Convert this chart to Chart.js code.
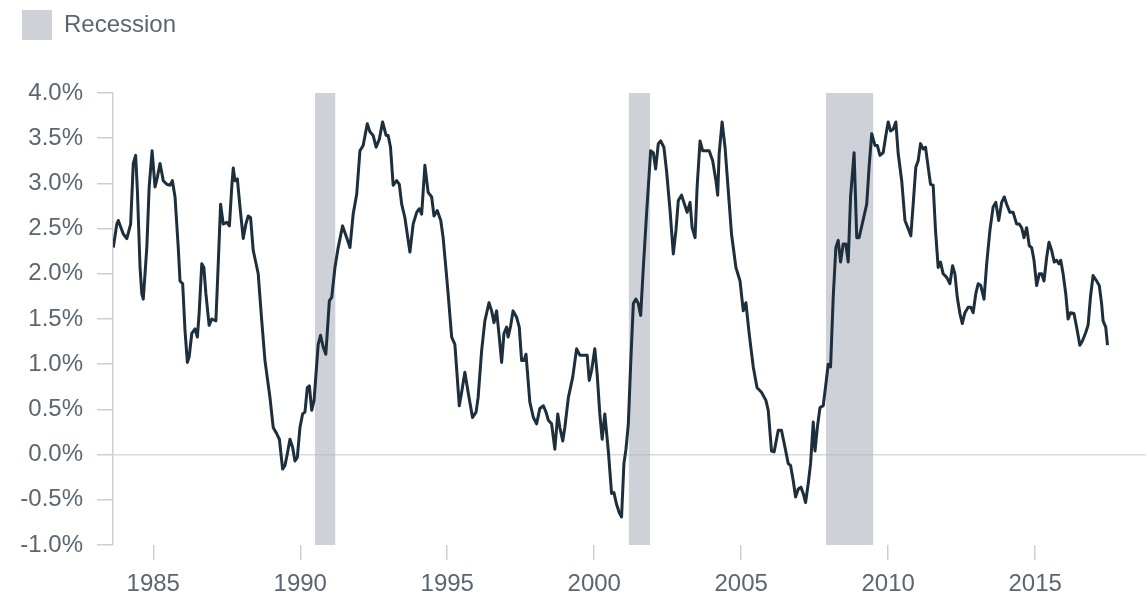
<!DOCTYPE html>
<html>
<head>
<meta charset="utf-8">
<script src="https://cdn.jsdelivr.net/npm/chart.js@4"></script>
<style>
  html, body { margin: 0; padding: 0; background: #fff; }
  #wrap { width: 1146px; height: 598px; }
</style>
</head>
<body>
<div id="wrap"><canvas id="chart"></canvas></div>
<script>
// decimal year of each observation
const dates = [
  1983.64, 1983.76, 1983.81, 1983.98, 1984.10, 1984.23, 1984.32, 1984.40, 1984.46, 1984.55,
  1984.61, 1984.66, 1984.78, 1984.86, 1984.96, 1985.06, 1985.14, 1985.23, 1985.34, 1985.46,
  1985.57, 1985.65, 1985.74, 1985.85, 1985.91, 1986.00, 1986.08, 1986.16, 1986.22, 1986.31,
  1986.42, 1986.50, 1986.56, 1986.65, 1986.72, 1986.79, 1986.90, 1986.99, 1987.13, 1987.21,
  1987.29, 1987.38, 1987.50, 1987.59, 1987.67, 1987.72, 1987.78, 1987.86, 1987.95, 1988.06,
  1988.15, 1988.23, 1988.31, 1988.40, 1988.57, 1988.69, 1988.80, 1988.97, 1989.08, 1989.20,
  1989.29, 1989.40, 1989.48, 1989.56, 1989.65, 1989.74, 1989.82, 1989.90, 1989.99, 1990.08,
  1990.16, 1990.24, 1990.31, 1990.39, 1990.47, 1990.61, 1990.69, 1990.78, 1990.87, 1990.99,
  1991.07, 1991.18, 1991.29, 1991.44, 1991.58, 1991.69, 1991.80, 1991.92,
  1992.03, 1992.14, 1992.28, 1992.37, 1992.48, 1992.58, 1992.69, 1992.80, 1992.92, 1992.99,
  1993.07, 1993.16, 1993.28, 1993.37, 1993.45, 1993.56, 1993.64, 1993.73, 1993.84, 1993.96,
  1994.05, 1994.13, 1994.24, 1994.35, 1994.47, 1994.55, 1994.66, 1994.78, 1994.86, 1994.96,
  1995.03, 1995.15, 1995.26, 1995.41, 1995.49, 1995.60, 1995.71, 1995.86, 1995.98, 1996.05,
  1996.17, 1996.28, 1996.42, 1996.51, 1996.59, 1996.68, 1996.77, 1996.85, 1996.93, 1997.02,
  1997.07, 1997.16, 1997.24, 1997.36, 1997.45, 1997.53, 1997.61, 1997.68, 1997.81, 1997.93,
  1998.04, 1998.15, 1998.27, 1998.36, 1998.44, 1998.55, 1998.66, 1998.76, 1998.83, 1998.93,
  1999.00, 1999.12, 1999.27, 1999.40, 1999.51, 1999.65, 1999.76, 1999.83, 1999.91, 2000.02,
  2000.10, 2000.19, 2000.27, 2000.36, 2000.48, 2000.59, 2000.67, 2000.76, 2000.85, 2000.93,
  2001.01, 2001.08, 2001.16, 2001.24, 2001.33, 2001.42, 2001.50, 2001.58, 2001.67, 2001.78,
  2001.92, 2002.01, 2002.09, 2002.18, 2002.26, 2002.37, 2002.46, 2002.58, 2002.69, 2002.78,
  2002.86, 2002.97, 2003.09, 2003.16, 2003.26, 2003.33, 2003.43, 2003.50, 2003.60, 2003.69,
  2003.80, 2003.91, 2004.03, 2004.14, 2004.20, 2004.25, 2004.35, 2004.45, 2004.56, 2004.67,
  2004.82, 2004.96, 2005.07, 2005.16, 2005.27, 2005.41, 2005.54, 2005.69, 2005.84, 2005.92,
  2006.03, 2006.12, 2006.26, 2006.37, 2006.49, 2006.60, 2006.68, 2006.77, 2006.85, 2006.94,
  2007.03, 2007.11, 2007.19, 2007.28, 2007.36, 2007.45, 2007.51, 2007.59, 2007.68, 2007.79,
  2007.88, 2007.96, 2008.04, 2008.13, 2008.22, 2008.30, 2008.38, 2008.47, 2008.56, 2008.64,
  2008.72, 2008.84, 2008.93, 2009.01, 2009.13, 2009.27, 2009.35, 2009.44,
  2009.55, 2009.63, 2009.72, 2009.83, 2009.92, 2010.00, 2010.08, 2010.17, 2010.26, 2010.34,
  2010.46, 2010.57, 2010.68, 2010.77, 2010.85, 2010.94, 2011.02, 2011.10, 2011.19, 2011.27,
  2011.36, 2011.44, 2011.53, 2011.61, 2011.70, 2011.78, 2011.87, 2011.99, 2012.10, 2012.19,
  2012.27, 2012.35, 2012.44, 2012.52, 2012.61, 2012.72, 2012.81, 2012.89, 2012.98, 2013.06,
  2013.15, 2013.26, 2013.35, 2013.46, 2013.57, 2013.66, 2013.76, 2013.86, 2013.95, 2014.03,
  2014.14, 2014.25, 2014.37, 2014.46, 2014.54, 2014.62, 2014.71, 2014.80, 2014.88, 2014.96,
  2015.05, 2015.14, 2015.22, 2015.30, 2015.39, 2015.47, 2015.56, 2015.65, 2015.73, 2015.81,
  2015.87, 2015.95, 2016.04, 2016.12, 2016.20, 2016.32, 2016.41, 2016.52, 2016.61, 2016.72,
  2016.80, 2016.88, 2016.97, 2017.09, 2017.18, 2017.26, 2017.31, 2017.40, 2017.46
];

// values in percent
const values = [
  2.29, 2.55, 2.59, 2.44, 2.39, 2.55, 3.22, 3.31, 2.92, 2.07,
  1.78, 1.72, 2.29, 2.96, 3.36, 2.96, 3.07, 3.22, 3.03, 2.99,
  2.98, 3.03, 2.85, 2.29, 1.92, 1.89, 1.37, 1.02, 1.08, 1.34,
  1.39, 1.30, 1.56, 2.11, 2.07, 1.78, 1.43, 1.50, 1.48, 2.11,
  2.77, 2.55, 2.57, 2.53, 2.96, 3.17, 3.03, 3.05, 2.74, 2.39,
  2.55, 2.64, 2.62, 2.26, 2.00, 1.48, 1.04, 0.63, 0.30, 0.23,
  0.17, -0.16, -0.12, 0.01, 0.17, 0.08, -0.07, -0.03, 0.30, 0.45,
  0.47, 0.74, 0.76, 0.49, 0.60, 1.22, 1.32, 1.19, 1.11, 1.70,
  1.74, 2.07, 2.29, 2.53, 2.40, 2.29, 2.66, 2.88,
  3.36, 3.42, 3.66, 3.57, 3.53, 3.40, 3.49, 3.68, 3.53, 3.53,
  3.40, 2.98, 3.03, 2.99, 2.77, 2.62, 2.44, 2.24, 2.55, 2.68,
  2.72, 2.66, 3.20, 2.90, 2.85, 2.64, 2.70, 2.59, 2.40, 2.04,
  1.78, 1.30, 1.22, 0.54, 0.69, 0.91, 0.69, 0.41, 0.47, 0.63,
  1.15, 1.48, 1.68, 1.59, 1.46, 1.59, 1.30, 1.02, 1.34, 1.41,
  1.30, 1.43, 1.59, 1.52, 1.41, 1.04, 1.04, 1.11, 0.58, 0.41,
  0.34, 0.51, 0.54, 0.47, 0.38, 0.34, 0.06, 0.45, 0.30, 0.15,
  0.30, 0.63, 0.86, 1.17, 1.10, 1.10, 1.10, 0.82, 0.93, 1.17,
  0.89, 0.45, 0.17, 0.45, 0.04, -0.43, -0.42, -0.55, -0.64, -0.69,
  -0.10, 0.06, 0.34, 1.00, 1.67, 1.72, 1.67, 1.54, 2.07, 2.66,
  3.36, 3.34, 3.16, 3.44, 3.47, 3.40, 3.14, 2.70, 2.22, 2.48,
  2.81, 2.87, 2.75, 2.68, 2.79, 2.51, 2.40, 2.96, 3.47, 3.36,
  3.36, 3.36, 3.25, 3.03, 2.87, 3.33, 3.68, 3.40, 2.92, 2.44,
  2.07, 1.92, 1.59, 1.68, 1.34, 0.97, 0.74, 0.69, 0.60, 0.49,
  0.04, 0.03, 0.27, 0.27, 0.08, -0.10, -0.12, -0.29, -0.47, -0.38,
  -0.36, -0.43, -0.53, -0.32, -0.10, 0.36, 0.04, 0.30, 0.52, 0.54,
  0.78, 1.00, 0.97, 1.74, 2.29, 2.37, 2.13, 2.33, 2.33, 2.13,
  2.85, 3.34, 2.40, 2.40, 2.57, 2.77, 3.18, 3.55,
  3.42, 3.42, 3.31, 3.34, 3.53, 3.68, 3.58, 3.60, 3.68, 3.33,
  3.03, 2.59, 2.50, 2.42, 2.77, 3.18, 3.25, 3.44, 3.38, 3.40,
  3.18, 2.99, 2.98, 2.48, 2.07, 2.13, 2.00, 1.96, 1.89, 2.09,
  2.00, 1.74, 1.56, 1.45, 1.57, 1.63, 1.63, 1.57, 1.78, 1.89,
  1.87, 1.72, 2.11, 2.48, 2.74, 2.79, 2.59, 2.79, 2.85, 2.77,
  2.68, 2.68, 2.55, 2.55, 2.51, 2.40, 2.51, 2.31, 2.29, 2.15,
  1.87, 2.00, 2.00, 1.92, 2.18, 2.35, 2.26, 2.13, 2.15, 2.11,
  2.15, 2.00, 1.78, 1.50, 1.57, 1.56, 1.41, 1.21, 1.26, 1.35,
  1.43, 1.74, 1.98, 1.92, 1.87, 1.67, 1.48, 1.41, 1.21
];

const recessionStart = [1990.5, 2001.17, 2007.88];
const recessionEnd = [1991.2, 2001.9, 2009.5];

const xTicks = [1985, 1990, 1995, 2000, 2005, 2010, 2015];
const yTicks = [-1, -0.5, 0, 0.5, 1, 1.5, 2, 2.5, 3, 3.5, 4];

const TEXT = '#5b6671';
const RULE = '#cbcfd4';
const FONT = { family: "'Liberation Sans', Arial, sans-serif", size: 24 };

const linePoints = dates.map((d, i) => ({ x: d, y: values[i] }));

// bands: top edge at the axis max, filled down to the axis start
const bandPoints = [];
recessionStart.forEach((s, i) => {
    bandPoints.push({ x: s, y: 4 }, { x: recessionEnd[i], y: 4 }, { x: recessionEnd[i] + 0.01, y: null });
});

// push the plot down below the legend
const legendGap = {
    id: 'legendGap',
    beforeInit(chart) {
        const fit = chart.legend.fit;
        chart.legend.fit = function () {
            fit.bind(chart.legend)();
            this.height += 43;
        };
    }
};

new Chart(document.getElementById('chart'), {
    type: 'line',
    data: {
        datasets: [
            {
                label: 'Series',
                data: linePoints,
                borderColor: '#1d2e3d',
                borderWidth: 3,
                pointRadius: 0,
                tension: 0,
                borderJoinStyle: 'round',
                order: 0
            },
            {
                label: 'Recession',
                data: bandPoints,
                borderWidth: 0,
                borderColor: 'rgba(0,0,0,0)',
                backgroundColor: 'rgba(178,180,192,0.62)',
                pointRadius: 0,
                fill: 'start',
                spanGaps: false,
                order: 1
            }
        ]
    },
    options: {
        responsive: true,
        maintainAspectRatio: false,
        animation: false,
        layout: { padding: { left: 12, top: 0, right: 0, bottom: 0 } },
        plugins: {
            legend: {
                position: 'top',
                align: 'start',
                labels: {
                    boxWidth: 30,
                    boxHeight: 30,
                    color: TEXT,
                    font: FONT,
                    filter: item => item.text === 'Recession'
                }
            },
            tooltip: { enabled: false }
        },
        scales: {
            x: {
                type: 'linear',
                min: 1983.63,
                max: 2018.77,
                afterBuildTicks: scale => { scale.ticks = xTicks.map(v => ({ value: v })); },
                afterFit: scale => { scale.height = 53; },
                border: { display: false },
                grid: { drawOnChartArea: false, tickLength: 15, tickColor: RULE, lineWidth: 1.5 },
                ticks: { color: TEXT, font: FONT, padding: 10, maxRotation: 0, callback: v => String(v) }
            },
            y: {
                min: -1,
                max: 4,
                afterBuildTicks: scale => { scale.ticks = yTicks.map(v => ({ value: v })); },
                afterFit: scale => { scale.width = 101; },
                border: { display: true, color: RULE, width: 1.5 },
                grid: {
                    color: ctx => (ctx.tick && ctx.tick.value === 0 ? '#d6d9dd' : 'rgba(0,0,0,0)'),
                    tickColor: RULE,
                    tickLength: 16,
                    lineWidth: 1.5
                },
                ticks: { color: TEXT, font: FONT, padding: 14, callback: v => v.toFixed(1) + '%' }
            }
        }
    },
    plugins: [legendGap]
});
</script>
</body>
</html>
